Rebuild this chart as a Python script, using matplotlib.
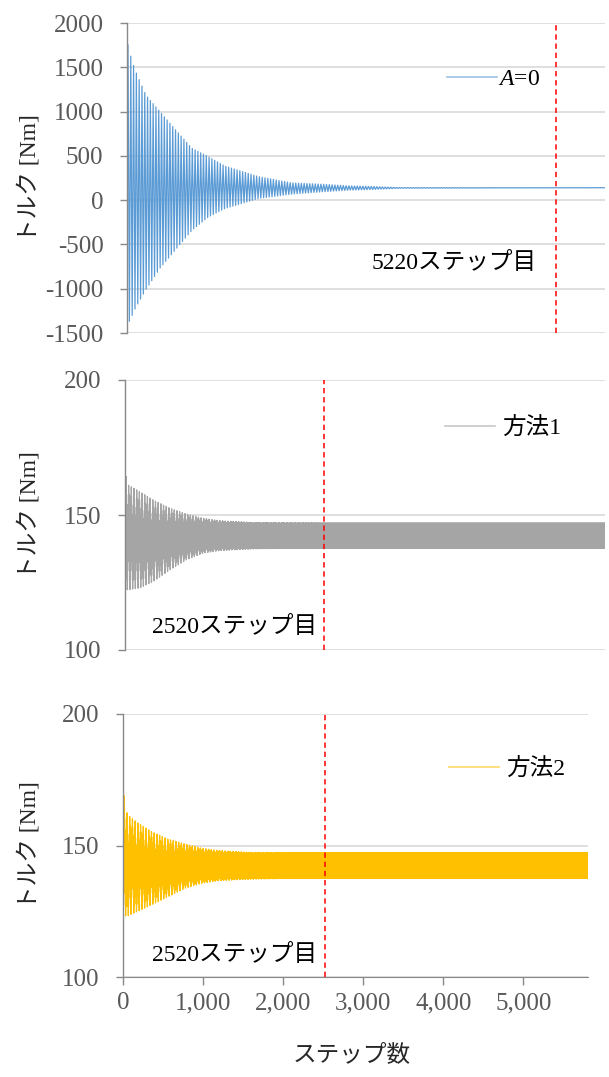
import numpy as np
import matplotlib
matplotlib.use('Agg')
import matplotlib.pyplot as plt
from matplotlib.ticker import FuncFormatter

plt.rcParams['font.family'] = ['Liberation Serif', 'Noto Sans CJK JP']
plt.rcParams['axes.unicode_minus'] = False
plt.rcParams['mathtext.fontset'] = 'custom'
plt.rcParams['mathtext.rm'] = 'Liberation Serif'
plt.rcParams['mathtext.it'] = 'Liberation Serif:italic'

# envelopes of the torque oscillation: step, upper peak, lower trough [Nm]
a0_steps = [0, 50, 85, 120, 230, 400, 585, 790, 990, 1190, 1600, 2000, 2370, 2700, 3000, 3320, 5812]
a0_upper = [1800, 1610, 1505, 1420, 1185, 1000, 800, 585, 490, 385, 265, 195, 180, 161, 154, 142, 140]
a0_lower = [-1420, -1330, -1250, -1190, -1010, -770, -565, -340, -190, -95, 19, 68, 94, 113, 121, 134, 140]

m1_steps = [0, 40, 190, 360, 570, 780, 990, 1200, 1620, 2470, 6080]
m1_upper = [165.6, 161.1, 158.6, 155.5, 152.5, 150.3, 148.8, 147.9, 147.2, 146.9, 146.9]
m1_lower = [122.3, 122.3, 123.0, 125.4, 129.7, 133.4, 135.9, 136.8, 137.5, 137.7, 137.7]

m2_steps = [0, 50, 184, 350, 559, 767, 975, 1184, 1600, 2430, 5812]
m2_upper = [171.0, 161.7, 158.5, 155.3, 152.4, 150.6, 149.0, 148.1, 147.3, 147.1, 147.1]
m2_lower = [123.2, 123.2, 125.0, 127.4, 130.5, 133.7, 135.6, 136.6, 137.3, 137.6, 137.6]

# half width of the step-to-step chatter band that stays after convergence [Nm]
chatter = [0.0, 4.6, 4.75]

# converged step marked on each panel
mark_steps = [5220, 2520, 2520]
mark_labels = ['5220ステップ目', '2520ステップ目', '2520ステップ目']
series_labels = [r'$A$=0', '方法1', '方法2']
colors = ['#5B9BD5', '#A5A5A5', '#FFC000']
x_ends = [5812, 6080, 5812]
yticks_top = [-1500, -1000, -500, 0, 500, 1000, 1500, 2000]
yticks_low = [100, 150, 200]
xticks = [0, 1000, 2000, 3000, 4000, 5000]

half_period = 17  # steps from a peak to the next trough
first_peak = 12


def torque(steps, upper, lower, band, last):
    t = np.arange(0, last + 1)
    pk = np.arange(first_peak, last + half_period, half_period)
    hi = np.interp(pk, steps, upper) - band
    lo = np.interp(pk, steps, lower) + band
    slow = np.interp(t, pk, np.where(np.arange(len(pk)) % 2 == 0, hi, lo))
    return t, slow + band * np.where(t % 2 == 0, 1, -1)


fig = plt.figure(figsize=(6.09, 10.77), dpi=100)
W, H = 609, 1077
# plot boxes in pixels: left, top, right, bottom
boxes = [(127, 23, 605, 333), (125, 380, 605, 650), (123.3, 714, 588.3, 977)]
legend_xy = [(447, 79), (445, 428), (449, 769)]
text_xy = [(537, 263), (317, 627), (317, 955)]
envs = [(a0_steps, a0_upper, a0_lower), (m1_steps, m1_upper, m1_lower), (m2_steps, m2_upper, m2_lower)]

for i in range(3):
    l, t, r, b = boxes[i]
    ax = fig.add_axes([l / W, 1 - b / H, (r - l) / W, (b - t) / H])
    steps, up, lo = envs[i]
    x, y = torque(steps, up, lo, chatter[i], x_ends[i])
    ax.plot(x, y, color=colors[i], lw=0.9, label=series_labels[i])
    ax.axvline(mark_steps[i], color='#FF0000', lw=1.1, ls=(0, (3.5, 2.5)))
    ax.set_xlim(0, x_ends[i])

    yt = yticks_top if i == 0 else yticks_low
    ax.set_ylim(yt[0], yt[-1])
    ax.set_yticks(yt)
    ax.grid(axis='y', color='#D9D9D9', lw=1.2)
    ax.set_axisbelow(True)
    for s in ['top', 'right', 'bottom']:
        ax.spines[s].set_visible(False)
    ax.spines['left'].set_color('#898989')
    ax.spines['left'].set_linewidth(1.0)
    ax.tick_params(axis='y', length=5, width=1, color='#898989',
                   labelcolor='#595959', labelsize=18, pad=12)
    if i == 2:
        ax.spines['bottom'].set_visible(True)
        ax.spines['bottom'].set_color('#898989')
        ax.set_xticks(xticks)
        ax.xaxis.set_major_formatter(FuncFormatter(lambda v, p: f'{v:,.0f}'))
        ax.tick_params(axis='x', length=6, width=1, color='#898989',
                       labelcolor='#595959', labelsize=18, pad=5)
    else:
        ax.tick_params(axis='x', bottom=False, labelbottom=False)

    lx, ly = legend_xy[i]
    leg = ax.legend(loc='center left', bbox_to_anchor=((lx - l) / (r - l), (b - ly) / (b - t)),
                    frameon=False, fontsize=17, handlelength=2.1,
                    handletextpad=0.05 if i == 0 else 0.3, borderpad=0, borderaxespad=0)
    for h in leg.get_lines():
        h.set_linewidth(1.2)
        h.set_alpha(0.6)

    tx, ty = text_xy[i]
    ax.text((tx - l) / (r - l), (b - ty) / (b - t), mark_labels[i], transform=ax.transAxes,
            ha='right', va='center', fontsize=17, color='black')

    fig.text(29 / W, 1 - (t + b) / 2 / H, 'トルク [Nm]', rotation=90,
             ha='center', va='center', fontsize=17, color='#262626')

fig.text(352 / W, 1 - 1055 / H, 'ステップ数', ha='center', va='center', fontsize=17, color='#262626')

fig.savefig('out.png', dpi=100)
